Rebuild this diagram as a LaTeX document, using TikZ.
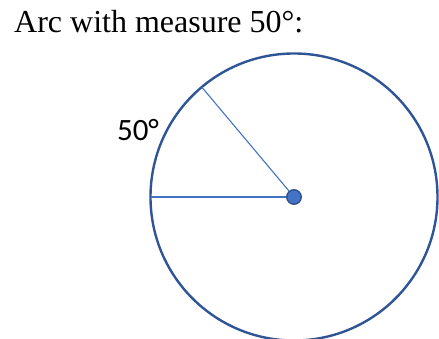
\documentclass[tikz,border=0pt]{standalone}
\usepackage{fontspec}
\setmainfont{Liberation Serif}
\newfontfamily\labelfont{Carlito}
\definecolor{rimblue}{HTML}{2F5597}
\definecolor{dotblue}{HTML}{4472C4}
\definecolor{dotedge}{HTML}{2F528F}

\begin{document}
\begin{tikzpicture}[x=1pt, y=1pt,
  rim/.style={draw=rimblue, line width=2.4pt},
  spoke/.style={draw=dotblue, line width=1.1pt},
  centerdot/.style={circle, fill=dotblue, draw=dotedge, line width=1.4pt,
    minimum size=14.5pt, inner sep=0pt}]
  \useasboundingbox (0,0) rectangle (439,339);
  \coordinate (O) at (294,142);
  % endpoints of the two radii, r = 143.5
  \coordinate (A) at ({294+143.5*cos(130)}, {142+143.5*sin(130)});
  \coordinate (B) at ({294+143.5*cos(180)}, {142+143.5*sin(180)});

  \draw[rim] (O) circle[radius=143.5];
  \draw[spoke] (O) -- (A);
  \draw[spoke, line width=1.6pt] (O) -- (B);
  \node[centerdot] (dot) at (O) {};

  \node[anchor=base west, inner sep=0pt] (title) at (14,306)
    {\fontsize{32}{36}\selectfont Arc with measure 50°:};
  \node[inner sep=0pt] (arclabel) at (138,209)
    {\labelfont\fontsize{31}{36}\selectfont 50°};
\end{tikzpicture}
\end{document}
